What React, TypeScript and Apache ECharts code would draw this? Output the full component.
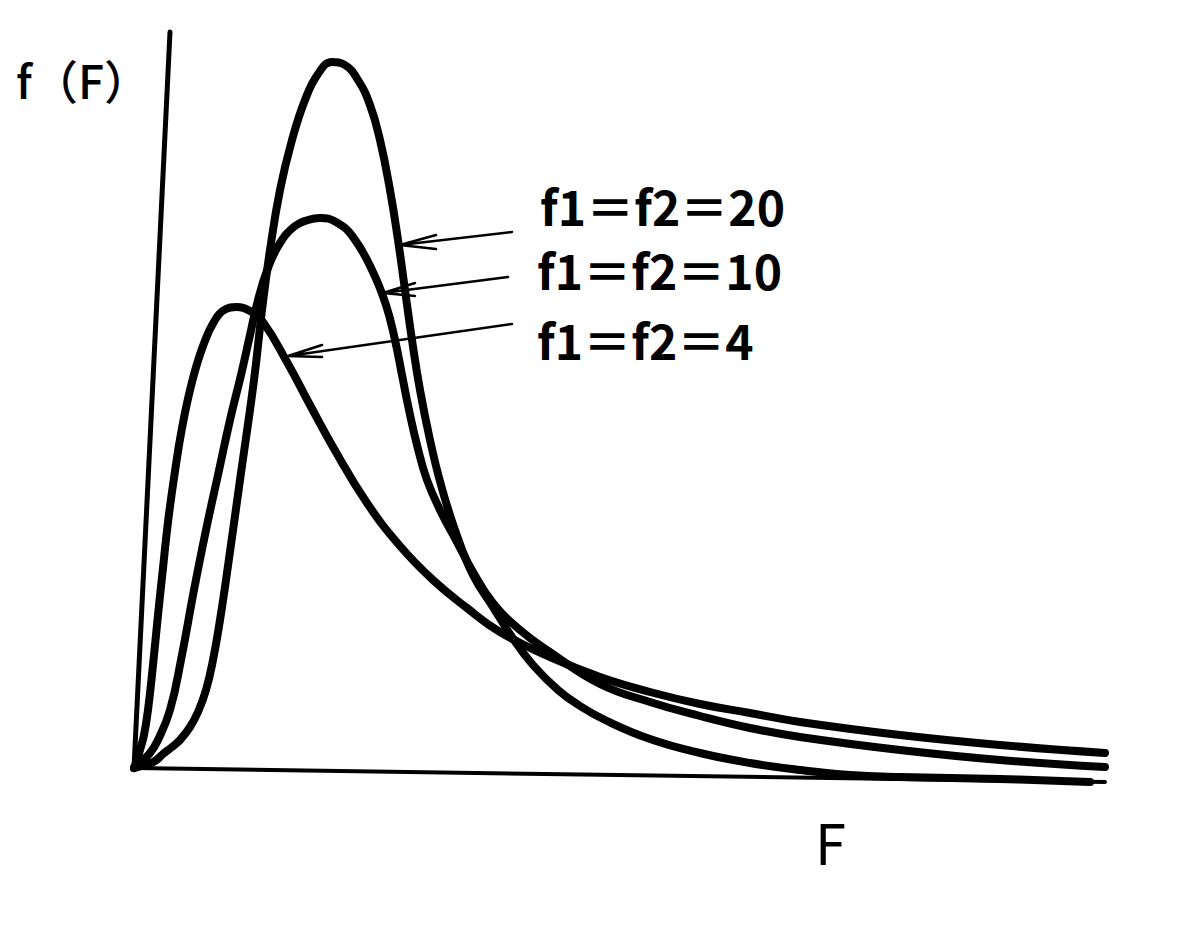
import React, { useEffect, useRef } from "react";
import * as echarts from "echarts";

// Abstract units: x = distance along F from origin, y = height of f(F)
const f4X = [0, 3, 6, 10, 14, 19, 24, 29, 34, 40, 48, 58, 69, 81, 92, 102, 116, 129, 153, 176, 199, 233, 266, 299, 333, 366, 416, 466, 516, 566, 616, 666, 766, 866, 971];
const f4Y = [0, 8, 18, 33, 58, 103, 153, 200, 246, 290, 340, 386, 422, 448, 459, 461, 457, 446, 406, 363, 321, 265, 222, 188, 160, 136, 111, 91, 76, 64, 55, 46, 33, 23, 15];

const f10X = [0, 6, 16, 24, 36, 47, 60, 72, 84, 96, 107, 116, 124, 134, 146, 161, 174, 186, 202, 219, 238, 252, 261, 268, 275, 283, 293, 307, 323, 339, 359, 386, 416, 466, 516, 566, 616, 666, 766, 866, 971];
const f10Y = [0, 5, 15, 28, 58, 108, 178, 238, 293, 348, 393, 433, 468, 500, 525, 542, 548, 550, 546, 531, 498, 463, 428, 393, 358, 323, 288, 256, 226, 196, 165, 138, 116, 84, 66, 52, 40, 31, 18, 8, 1];

const f20X = [0, 11, 21, 29, 38, 46, 56, 64, 72, 79, 86, 92, 106, 120, 128, 136, 146, 158, 171, 184, 198, 211, 224, 236, 246, 256, 264, 271, 278, 286, 296, 307, 321, 339, 359, 378, 399, 424, 446, 471, 516, 566, 616, 666, 716, 766, 866, 956];
const f20Y = [0, 3, 7, 14, 21, 28, 41, 56, 78, 108, 148, 188, 288, 388, 458, 518, 578, 628, 668, 694, 706, 703, 688, 663, 628, 578, 528, 478, 428, 378, 328, 283, 238, 193, 161, 131, 103, 78, 62, 48, 29, 15, 5, -2, -7, -9, -11, -14];

// hand-drawn axes (slightly tilted)
const yAxisLineX = [0, 36];
const yAxisLineY = [0, 736];
const xAxisLineX = [0, 971];
const xAxisLineY = [0, -14];

// pointer arrows: shaft start, tip, barb, tip, barb
const arrow20X = [378, 266, 302, 266, 302];
const arrow20Y = [536, 523, 533, 523, 519];
const arrow10X = [374, 249, 281, 249, 281];
const arrow10Y = [491, 475, 485, 475, 472];
const arrow4X = [378, 154, 188, 154, 188];
const arrow4Y = [444, 412, 423, 412, 411];

const labels = ["f1＝f2＝20", "f1＝f2＝10", "f1＝f2＝4"];
const yTitle = "f（F）";
const xTitle = "F";

const zip = (xs: number[], ys: number[]) => xs.map((x, i) => [x, ys[i]]);

export default function App() {
  const ref = useRef<HTMLDivElement>(null);
  useEffect(() => {
    if (!ref.current) return;
    const chart = echarts.init(ref.current, undefined, { renderer: "svg" });
    const curve = (name: string, xs: number[], ys: number[]) => ({
      name,
      type: "line",
      data: zip(xs, ys),
      smooth: 0.45,
      symbol: "none",
      lineStyle: { color: "#000", width: 8, cap: "round", join: "round" },
      z: 3,
    });
    const straight = (name: string, xs: number[], ys: number[], width: number) => ({
      name,
      type: "line",
      data: zip(xs, ys),
      smooth: false,
      symbol: "none",
      lineStyle: { color: "#000", width, cap: "round", join: "round" },
      z: 2,
    });
    const font = '"Noto Sans CJK JP", "Noto Sans", sans-serif';
    const label = (text: string, x: number, y: number) => ({
      type: "text",
      x,
      y,
      style: { text, font: `bold 48px ${font}`, fill: "#000", verticalAlign: "middle", lineHeight: 48 },
    });
    chart.setOption({
      animation: false,
      backgroundColor: "#fff",
      grid: { left: 134, right: 49, top: 28, bottom: 145 },
      xAxis: { type: "value", min: 0, max: 1000, show: false },
      yAxis: { type: "value", min: -30, max: 740, show: false },
      series: [
        straight("yAxis", yAxisLineX, yAxisLineY, 5),
        straight("xAxis", xAxisLineX, xAxisLineY, 4),
        curve(labels[2], f4X, f4Y),
        curve(labels[1], f10X, f10Y),
        curve(labels[0], f20X, f20Y),
        straight("arrow20", arrow20X, arrow20Y, 2.5),
        straight("arrow10", arrow10X, arrow10Y, 2.5),
        straight("arrow4", arrow4X, arrow4Y, 2.5),
      ],
      graphic: [
        { type: "text", left: 16, top: 56, style: { text: yTitle, font: `500 46px ${font}`, fill: "#000" } },
        label(labels[0], 540, 205),
        label(labels[1], 537, 269),
        label(labels[2], 537, 339),
        { type: "text", x: 815, y: 840, style: { text: xTitle, font: `56px ${font}`, fill: "#000", verticalAlign: "middle" } },
      ],
    });
    return () => chart.dispose();
  }, []);
  return (
    <div
      ref={ref}
      style={{ position: "fixed", left: 0, top: 0, width: 1183, height: 943, background: "#fff" }}
    />
  );
}
